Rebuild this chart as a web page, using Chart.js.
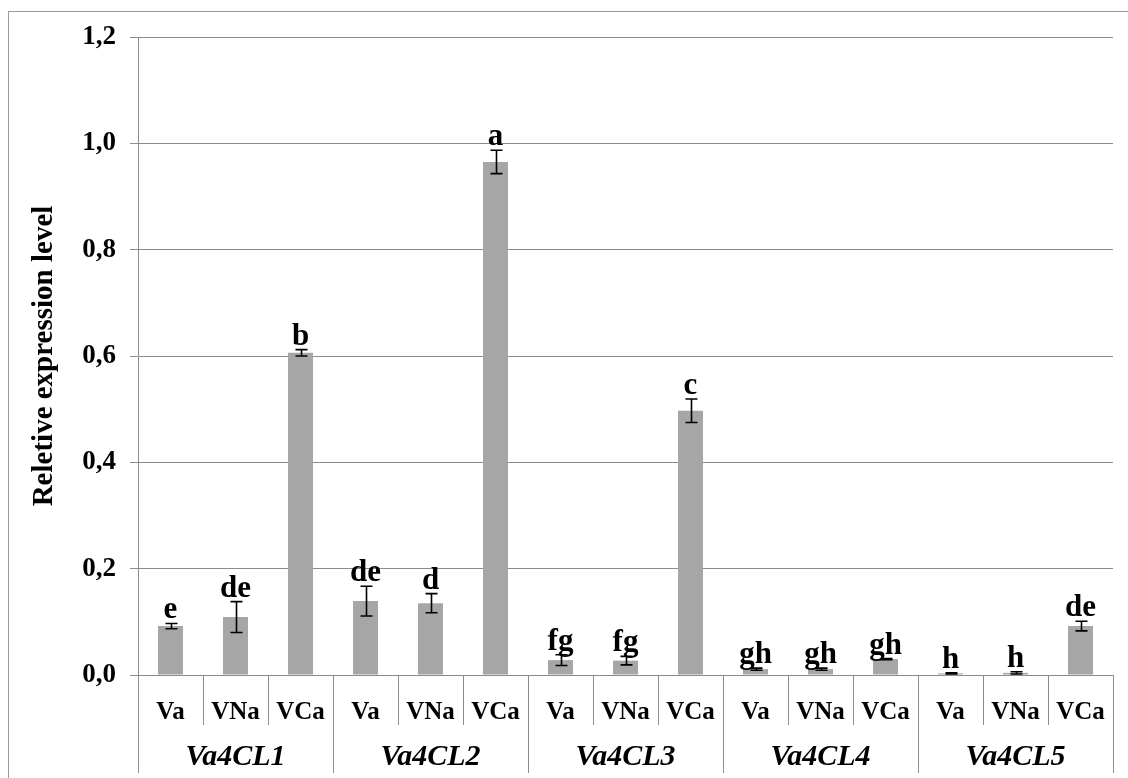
<!DOCTYPE html>
<html>
<head>
<meta charset="utf-8">
<script src="https://cdn.jsdelivr.net/npm/chart.js@4.4.0/dist/chart.umd.min.js"></script>
<style>
  body { margin: 0; background: #fff; }
  #wrap { width: 1128px; height: 778px; position: relative; }
</style>
</head>
<body>
<div id="wrap"><canvas id="expChart"></canvas></div>
<script>
const treatments = ['Va', 'VNa', 'VCa'];
const genes = ['Va4CL1', 'Va4CL2', 'Va4CL3', 'Va4CL4', 'Va4CL5'];

// one value per bar, genes in order, Va / VNa / VCa inside each gene
const expression = [0.092, 0.109, 0.606, 0.139, 0.135, 0.965, 0.028, 0.027, 0.497, 0.011, 0.011, 0.030, 0.003, 0.004, 0.092];
const errors     = [0.005, 0.029, 0.006, 0.028, 0.018, 0.022, 0.010, 0.008, 0.022, 0.002, 0.002, 0.001, 0.001, 0.002, 0.009];
const letters    = ['e', 'de', 'b', 'de', 'd', 'a', 'fg', 'fg', 'c', 'gh', 'gh', 'gh', 'h', 'h', 'de'];
const yTicks = [0, 0.2, 0.4, 0.6, 0.8, 1.0, 1.2];

const barLabels = [];
genes.forEach(() => treatments.forEach(t => barLabels.push(t)));

const serif = "'Liberation Serif', 'Times New Roman', serif";
const gridGray = '#8c8c8c';

// error bars + significance letters on top of the bars
const errorBars = {
    id: 'errorBars',
    afterDatasetsDraw(chart) {
        const ctx = chart.ctx;
        const y = chart.scales.y;
        const meta = chart.getDatasetMeta(0);
        ctx.save();
        ctx.strokeStyle = '#000';
        ctx.lineWidth = 1.6;
        ctx.fillStyle = '#000';
        ctx.font = 'bold 31px ' + serif;
        ctx.textAlign = 'center';
        ctx.textBaseline = 'alphabetic';
        meta.data.forEach((bar, i) => {
            const hi = y.getPixelForValue(expression[i] + errors[i]);
            const lo = y.getPixelForValue(expression[i] - errors[i]);
            const x = Math.round(bar.x) + 0.5;
            ctx.beginPath();
            ctx.moveTo(x, hi); ctx.lineTo(x, lo);
            ctx.moveTo(x - 6, hi); ctx.lineTo(x + 6, hi);
            ctx.moveTo(x - 6, lo); ctx.lineTo(x + 6, lo);
            ctx.stroke();
            ctx.fillText(letters[i], bar.x, hi - 5);
        });
        ctx.restore();
    }
};

// thin frame around the whole figure
const frame = {
    id: 'frame',
    beforeDraw(chart) {
        const ctx = chart.ctx;
        ctx.save();
        ctx.strokeStyle = '#9a9a9a';
        ctx.lineWidth = 1;
        ctx.strokeRect(8.5, 11.5, 1130, 780);
        ctx.restore();
    }
};

const ctx = document.getElementById('expChart').getContext('2d');
new Chart(ctx, {
    type: 'bar',
    data: {
        labels: barLabels,
        datasets: [{
            data: expression,
            backgroundColor: '#a6a6a6',
            borderWidth: 0,
            categoryPercentage: 1,
            barPercentage: 0.385
        }]
    },
    options: {
        responsive: true,
        maintainAspectRatio: false,
        animation: false,
        events: [],
        layout: {
            padding: { top: 37, right: 15, bottom: 0, left: 0 }
        },
        plugins: {
            legend: { display: false },
            tooltip: { enabled: false }
        },
        scales: {
            x: {
                position: 'bottom',
                offset: true,
                grid: {
                    offset: true,
                    drawOnChartArea: false,
                    tickLength: 50,
                    color: gridGray,
                    lineWidth: 1
                },
                border: { display: true, color: gridGray },
                ticks: {
                    padding: -27,
                    maxRotation: 0,
                    autoSkip: false,
                    color: '#000',
                    font: { family: serif, size: 25, weight: 'bold' }
                },
                afterFit(scale) { scale.height = 50; }
            },
            x2: {
                type: 'category',
                position: 'bottom',
                labels: genes,
                offset: true,
                grid: {
                    offset: true,
                    drawOnChartArea: false,
                    tickLength: 48,
                    color: gridGray,
                    lineWidth: 1
                },
                border: { display: false },
                ticks: {
                    padding: -34,
                    maxRotation: 0,
                    autoSkip: false,
                    color: '#000',
                    font: { family: serif, size: 30, weight: 'bold', style: 'italic' }
                },
                afterFit(scale) { scale.height = 53; }
            },
            y: {
                min: 0,
                max: 1.2,
                afterBuildTicks(scale) {
                    scale.ticks = yTicks.map(v => ({ value: v }));
                },
                grid: {
                    color: gridGray,
                    lineWidth: 1,
                    tickLength: 8
                },
                border: { display: true, color: gridGray },
                ticks: {
                    padding: 14,
                    color: '#000',
                    font: { family: serif, size: 27, weight: 'bold' },
                    callback: v => v.toFixed(1).replace('.', ',')
                },
                title: {
                    display: true,
                    text: 'Reletive expression level',
                    color: '#000',
                    padding: { top: 27, bottom: 0 },
                    font: { family: serif, size: 29, weight: 'bold' }
                },
                afterFit(scale) { scale.width = 138; }
            }
        }
    },
    plugins: [frame, errorBars]
});
</script>
</body>
</html>
